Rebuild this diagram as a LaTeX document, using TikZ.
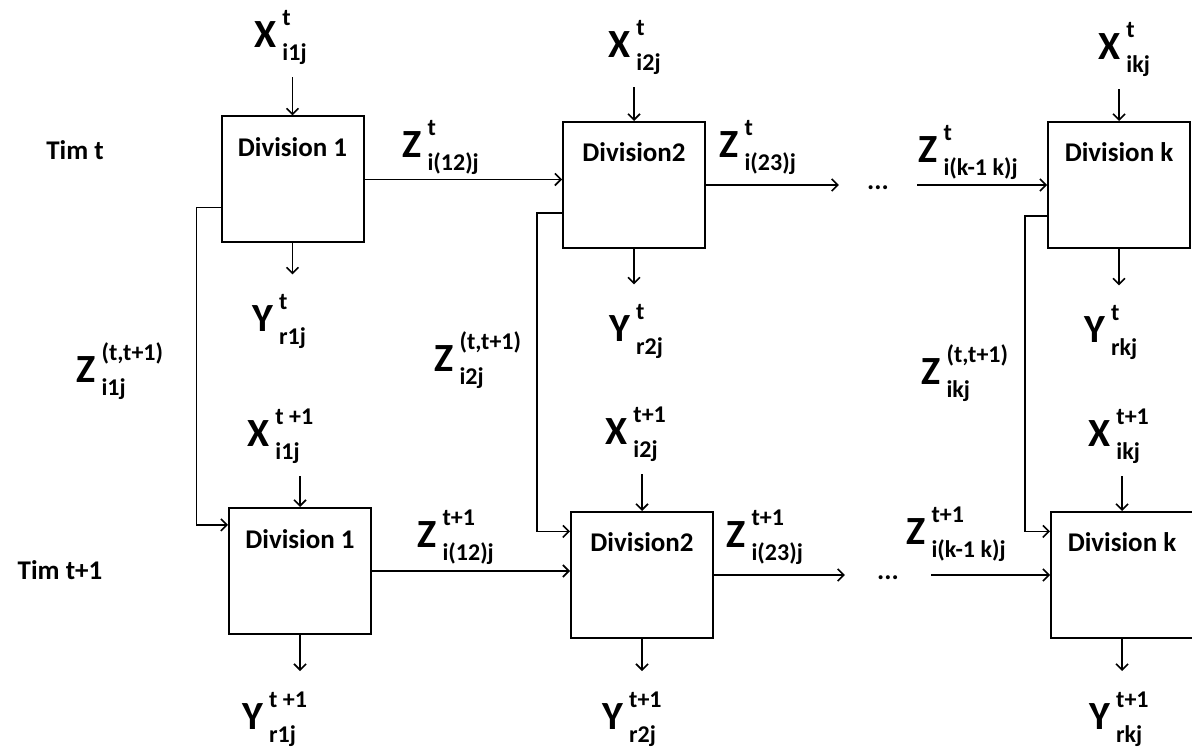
\documentclass[tikz,border=0pt]{standalone}
\usepackage{fontspec}
\setmainfont{Carlito}
\usetikzlibrary{arrows.meta,calc}

% letter with superscript stacked over subscript
\newcommand{\qlab}[3]{{\fontsize{20}{20}\selectfont #1}\kern3pt{\fontsize{12}{12}\selectfont\ooalign{\raisebox{11pt}{#2}\cr\raisebox{-6.5pt}{#3}\cr}}}

\tikzset{
  division/.style={draw, line width=1pt, minimum width=71pt, minimum height=63pt,
    inner xsep=2pt, inner ysep=0pt, text height=20pt, text depth=43pt,
    font=\bfseries\fontsize{13.5}{15}\selectfont},
  qty/.style={inner sep=0pt, anchor=base west, font=\bfseries},
  plain/.style={font=\bfseries\fontsize{13.5}{15}\selectfont},
  flow/.style={-{Straight Barb[length=3pt,width=6pt]}, line width=0.8pt},
}

\begin{document}
\begin{tikzpicture}[x=0.5pt,y=-0.5pt]

  \fill[white] (0,0) rectangle (1192,747);
  \useasboundingbox (0,0) rectangle (1192,747);

  % Period labels
  \node[plain] (timt) at (75,150) {Tim t};
  \node[plain] (timtt) at (60,570) {Tim t+1};

  % Divisions at time t
  \node[division] (dt1) at (292.5,179.5) {Division 1};
  \node[division] (dt2) at (634,185) {Division2};
  \node[division] (dtk) at (1119,185) {Division k};

  % Divisions at time t+1
  \node[division] (db1) at (300,571) {Division 1};
  \node[division] (db2) at (642,575) {Division2};
  \node[division] (dbk) at (1122,575) {Division k};

  % Inputs and outputs, time t
  \node[qty] (xt1) at (254,48) {\qlab{X}{t}{i1j}};
  \node[qty] (xt2) at (608,58) {\qlab{X}{t}{i2j}};
  \node[qty] (xtk) at (1098,60) {\qlab{X}{t}{ikj}};
  \node[qty] (yt1) at (252,332) {\qlab{Y}{t}{r1j}};
  \node[qty] (yt2) at (609,342) {\qlab{Y}{t}{r2j}};
  \node[qty] (ytk) at (1084,343) {\qlab{Y}{t}{rkj}};

  % Inputs and outputs, time t+1
  \node[qty] (xb1) at (247,447) {\qlab{X}{t +1}{i1j}};
  \node[qty] (xb2) at (605,445) {\qlab{X}{t+1}{i2j}};
  \node[qty] (xbk) at (1088,447) {\qlab{X}{t+1}{ikj}};
  \node[qty] (yb1) at (242,729) {\qlab{Y}{t +1}{r1j}};
  \node[qty] (yb2) at (602,729) {\qlab{Y}{t+1}{r2j}};
  \node[qty] (ybk) at (1089,729) {\qlab{Y}{t+1}{rkj}};

  % Links between divisions
  \node[qty] (zt12) at (402,158) {\qlab{Z}{t}{i(12)j}};
  \node[qty] (zt23) at (719,158) {\qlab{Z}{t}{i(23)j}};
  \node[qty] (ztk) at (918,163) {\qlab{Z}{t}{i(k-1 k)j}};
  \node[qty] (zb12) at (417,547) {\qlab{Z}{t+1}{i(12)j}};
  \node[qty] (zb23) at (726,547) {\qlab{Z}{t+1}{i(23)j}};
  \node[qty] (zbk) at (906,545) {\qlab{Z}{t+1}{i(k-1 k)j}};

  % Carry-over labels
  \node[qty] (c1) at (76,383) {\qlab{Z}{(t,t+1)}{i1j}};
  \node[qty] (c2) at (434,372) {\qlab{Z}{(t,t+1)}{i2j}};
  \node[qty] (ck) at (921,385) {\qlab{Z}{(t,t+1)}{ikj}};

  % Dots
  \node[plain, inner xsep=14pt] (dotst) at (878,188) {...};
  \node[plain, inner xsep=16pt] (dotsb) at (888,578) {...};

  % Vertical arrows in and out
  \foreach \d/\x/\y in {dt1/xt1/yt1, dt2/xt2/yt2, dtk/xtk/ytk,
                        db1/xb1/yb1, db2/xb2/yb2, dbk/xbk/ybk} {
    \draw[flow, shorten <=6pt] (\d.north |- \x.south) -- (\d.north);
    \draw[flow, shorten >=10pt] (\d.south) -- (\d.south |- \y.north);
  }

  % Horizontal flows, time t
  \draw[flow] (dt1.east) -- (dt1.east -| dt2.west);
  \draw[flow] (dt2.east) -- (dt2.east -| dotst.west);
  \draw[flow] (dotst.east |- dtk.west) -- (dtk.west);

  % Horizontal flows, time t+1
  \draw[flow] (db1.east) -- (db1.east -| db2.west);
  \draw[flow] (db2.east) -- (db2.east -| dotsb.west);
  \draw[flow] (dotsb.east |- dbk.west) -- (dbk.west);

  % Carry-over from t to t+1
  \coordinate (ft1) at ($(dt1.south west)!0.28!(dt1.north west)$);
  \coordinate (fb1) at ($(db1.north west)!0.14!(db1.south west)$);
  \coordinate (ft2) at ($(dt2.south west)!0.28!(dt2.north west)$);
  \coordinate (fb2) at ($(db2.north west)!0.16!(db2.south west)$);
  \coordinate (ftk) at ($(dtk.south west)!0.26!(dtk.north west)$);
  \coordinate (fbk) at ($(dbk.north west)!0.16!(dbk.south west)$);
  \draw[flow] (ft1) -- ++(-24,0) |- (fb1);
  \draw[flow] (ft2) -- ++(-25,0) |- (fb2);
  \draw[flow] (ftk) -- ++(-22,0) |- (fbk);

\end{tikzpicture}
\end{document}
